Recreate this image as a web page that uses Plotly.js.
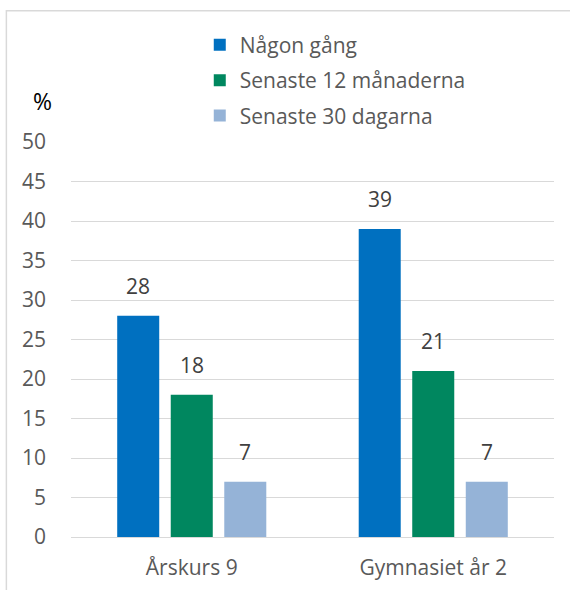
<!DOCTYPE html>
<html>
<head>
<meta charset="utf-8">
<script src="https://cdn.plot.ly/plotly-3.0.1.min.js"></script>
<style>html,body{margin:0;padding:0;background:#fff;}#chart{width:570px;height:590px;}</style>
</head>
<body>
<div id="chart"></div>
<script>
const categories = ["Årskurs 9", "Gymnasiet år 2"];
const seriesNames = ["Någon gång", "Senaste 12 månaderna", "Senaste 30 dagarna"];
const nagonGang = [28, 39];
const senaste12 = [18, 21];
const senaste30 = [7, 7];
const seriesValues = [nagonGang, senaste12, senaste30];
const colors = ["#0070C0", "#00875F", "#95B3D7"];

const FONT = "'Open Sans', 'Noto Sans', sans-serif";

const traces = seriesValues.map((vals, i) => ({
  type: "bar",
  name: seriesNames[i],
  x: categories,
  y: vals,
  marker: {color: colors[i]},
  legendgroup: "g" + i,
  hoverinfo: "none"
}));

const offsets = [-0.2216, 0, 0.2216];
const annotations = [];
seriesValues.forEach((vals, i) => {
  vals.forEach((v, j) => {
    annotations.push({
      x: j + offsets[i], y: v, xref: "x", yref: "y",
      text: String(v), showarrow: false,
      yanchor: "bottom", yshift: 14,
      font: {family: FONT, size: 21, color: "#404040"}
    });
  });
});
annotations.push({
  xref: "paper", yref: "paper", x: -0.058, y: 1.103,
  text: "%", showarrow: false, xanchor: "center", yanchor: "middle",
  font: {family: FONT, size: 23, color: "#000000"}
});

const layout = {
  width: 570, height: 590,
  margin: {l: 71, r: 16, t: 142, b: 53},
  paper_bgcolor: "#ffffff", plot_bgcolor: "#ffffff",
  font: {family: FONT, size: 21, color: "#595959"},
  barmode: "group",
  bargap: 0.335,
  bargroupgap: 0.215,
  showlegend: true,
  legend: {
    x: 0.2666, y: 1.297, xanchor: "left", yanchor: "top",
    bgcolor: "rgba(0,0,0,0)",
    font: {family: FONT, size: 21, color: "#595959"},
    tracegroupgap: 5,
    traceorder: "grouped"
  },
  xaxis: {
    type: "category",
    showgrid: false, showline: false, ticks: "",
    ticklabelstandoff: 16,
    tickfont: {family: FONT, size: 21, color: "#595959"},
    fixedrange: true
  },
  yaxis: {
    range: [0, 50], dtick: 5, tick0: 0,
    showgrid: true, gridcolor: "#d9d9d9", gridwidth: 1,
    zeroline: true, zerolinecolor: "#d9d9d9", zerolinewidth: 1,
    showline: false, ticks: "",
    ticklabelstandoff: 24,
    tickfont: {family: FONT, size: 21, color: "#595959"},
    fixedrange: true
  },
  annotations: annotations,
  shapes: [{
    type: "rect", xref: "paper", yref: "paper",
    x0: -0.1338, x1: 1.2, y0: -0.2, y1: 1.332,
    line: {color: "#d9d9d9", width: 1.5}, fillcolor: "rgba(0,0,0,0)", layer: "below"
  }]
};

Plotly.newPlot("chart", traces, layout, {displayModeBar: false, staticPlot: true});
</script>
</body>
</html>
